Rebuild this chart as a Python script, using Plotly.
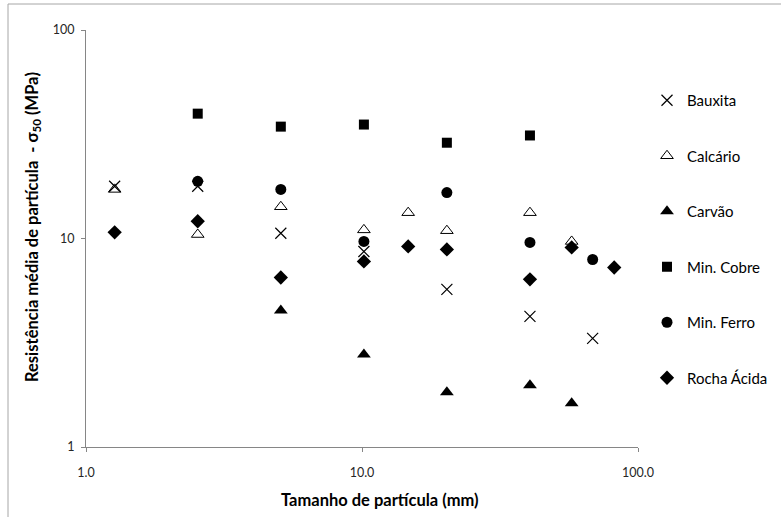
import plotly.graph_objects as go

# Data
baux_x = [1.27, 2.54, 5.08, 10.16, 20.3, 40.6, 68.5]
baux_y = [17.8, 17.8, 10.6, 8.66, 5.70, 4.23, 3.32]

calc_x = [1.27, 2.54, 5.08, 10.16, 14.7, 20.3, 40.6, 57.5]
calc_y = [17.2, 10.45, 14.2, 11.0, 13.3, 10.9, 13.3, 9.68]

carv_x = [5.08, 10.16, 20.3, 40.6, 57.5]
carv_y = [4.52, 2.78, 1.83, 1.98, 1.62]

cobre_x = [2.54, 5.08, 10.16, 20.3, 40.6]
cobre_y = [39.7, 34.4, 35.2, 28.8, 31.2]

ferro_x = [2.54, 5.08, 10.16, 20.3, 40.6, 68.5]
ferro_y = [18.8, 17.2, 9.68, 16.6, 9.57, 7.93]

rocha_x = [1.27, 2.54, 5.08, 10.16, 14.7, 20.3, 40.6, 57.5, 82.0]
rocha_y = [10.7, 12.1, 6.5, 7.76, 9.16, 8.86, 6.37, 9.06, 7.26]

x_ticks = [1, 10, 100]
x_tick_text = ["1.0", "10.0", "100.0"]
y_ticks = [1, 10, 100]
y_tick_text = ["1", "10", "100"]

x_title = "<b>Tamanho de partícula (mm)</b>"
y_title = "<b>Resistência média de partícula  - σ<sub>50</sub> (MPa)</b>"

series = [
    ("Bauxita", baux_x, baux_y, dict(symbol="x-thin-open", size=11, line=dict(color="black", width=1.2), color="black")),
    ("Calcário", calc_x, calc_y, dict(symbol="triangle-up-open", size=11, line=dict(color="black", width=1), color="black")),
    ("Carvão", carv_x, carv_y, dict(symbol="triangle-up", size=12, color="black", line=dict(width=0))),
    ("Min. Cobre", cobre_x, cobre_y, dict(symbol="square", size=10, color="black", line=dict(width=0))),
    ("Min. Ferro", ferro_x, ferro_y, dict(symbol="circle", size=11, color="black", line=dict(width=0))),
    ("Rocha Ácida", rocha_x, rocha_y, dict(symbol="diamond", size=11, color="black", line=dict(width=0))),
]

fig = go.Figure()
for i, (name, xs, ys, mk) in enumerate(series):
    fig.add_trace(go.Scatter(x=xs, y=ys, mode="markers", name=name, marker=mk,
                             legendgroup=f"g{i}"))

font_family = "Lato, 'Open Sans', sans-serif"
axis_color = "#868686"

fig.update_layout(
    width=781, height=517,
    margin=dict(l=86, r=143, t=30, b=70, autoexpand=False),
    paper_bgcolor="white", plot_bgcolor="white",
    font=dict(family=font_family, color="black"),
    showlegend=True,
    legend=dict(xref="container", yref="container",
                x=647 / 781, xanchor="left", y=1 - 84 / 517, yanchor="top",
                traceorder="grouped", tracegroupgap=33, maxheight=420,
                font=dict(size=15, color="black"),
                bgcolor="rgba(0,0,0,0)", itemwidth=30),
    xaxis=dict(type="log", range=[0, 2], tickvals=x_ticks, ticktext=x_tick_text,
               showgrid=False, zeroline=False, showline=True, linecolor=axis_color,
               linewidth=1, ticks="outside", ticklen=4, tickcolor=axis_color,
               ticklabelstandoff=10, automargin=False,
               tickfont=dict(size=12.5, color="#262626")),
    yaxis=dict(type="log", range=[0, 2], tickvals=y_ticks, ticktext=y_tick_text,
               showgrid=False, zeroline=False, showline=True, linecolor=axis_color,
               linewidth=1, ticks="outside", ticklen=4, tickcolor=axis_color,
               ticklabelstandoff=4, automargin=False,
               tickfont=dict(size=12.5, color="#262626")),
    annotations=[
        dict(text=x_title, xref="paper", yref="paper", x=(380 - 86) / 552,
             y=(447 - 500) / 417, xanchor="center", yanchor="middle",
             showarrow=False, font=dict(size=16.5, color="black")),
        dict(text=y_title, xref="paper", yref="paper", x=(33 - 86) / 552,
             y=(447 - 227) / 417, xanchor="center", yanchor="middle",
             textangle=-90, showarrow=False, font=dict(size=16.5, color="black")),
    ],
    shapes=[dict(type="rect", xref="paper", yref="paper",
                 x0=(8 - 86) / 552, x1=1.5, y0=-0.5, y1=(447 - 4) / 417,
                 line=dict(color="#a6a6a6", width=1), fillcolor="rgba(0,0,0,0)",
                 layer="below")],
)

fig.write_html("out.html")
